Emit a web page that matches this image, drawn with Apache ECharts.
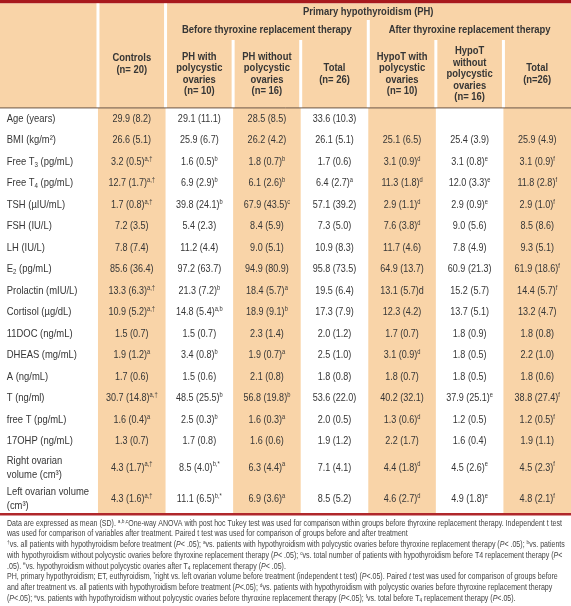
<!DOCTYPE html>
<html>
<head>
<meta charset="utf-8">
<script src="https://cdn.jsdelivr.net/npm/echarts@6.0.0/dist/echarts.min.js"></script>
<style>
html,body{margin:0;padding:0;background:#ffffff;}
#chart{width:571px;height:606px;}
</style>
</head>
<body>
<div id="chart"></div>
<script>
// ---------------- data ----------------
const rowLabels = [
  'Age (years)', 'BMI (kg/m²)', 'Free T_3 (pg/mL)', 'Free T_4 (pg/mL)', 'TSH (µIU/mL)',
  'FSH (IU/L)', 'LH (IU/L)', 'E_2 (pg/mL)', 'Prolactin (mIU/L)', 'Cortisol (µg/dL)',
  '11DOC (ng/mL)', 'DHEAS (mg/mL)', 'A (ng/mL)', 'T (ng/ml)', 'free T (pg/mL)',
  '17OHP (ng/mL)', 'Right ovarian\nvolume (cm³)', 'Left ovarian volume\n(cm³)'
];
const topHeader = 'Primary hypothyroidism (PH)';
const groupHeaders = ['Before thyroxine replacement therapy', 'After thyroxine replacement therapy'];
const columnHeaders = [
  'Controls\n(n= 20)',
  'PH with\npolycystic\novaries\n(n= 10)',
  'PH without\npolycystic\novaries\n(n= 16)',
  'Total\n(n= 26)',
  'HypoT with\npolycystic\novaries\n(n= 10)',
  'HypoT\nwithout\npolycystic\novaries\n(n= 16)',
  'Total\n(n=26)'
];
const controls = ['29.9 (8.2)', '26.6 (5.1)', '3.2 (0.5)^a,†', '12.7 (1.7)^a,†', '1.7 (0.8)^a,†', '7.2 (3.5)', '7.8 (7.4)', '85.6 (36.4)', '13.3 (6.3)^a,†', '10.9 (5.2)^a,†', '1.5 (0.7)', '1.9 (1.2)^a', '1.7 (0.6)', '30.7 (14.8)^a,†', '1.6 (0.4)^a', '1.3 (0.7)', '4.3 (1.7)^a,†', '4.3 (1.6)^a,†'];
const phWithPco = ['29.1 (11.1)', '25.9 (6.7)', '1.6 (0.5)^b', '6.9 (2.9)^b', '39.8 (24.1)^b', '5.4 (2.3)', '11.2 (4.4)', '97.2 (63.7)', '21.3 (7.2)^b', '14.8 (5.4)^a,b', '1.5 (0.7)', '3.4 (0.8)^b', '1.5 (0.6)', '48.5 (25.5)^b', '2.5 (0.3)^b', '1.7 (0.8)', '8.5 (4.0)^b,*', '11.1 (6.5)^b,*'];
const phWithoutPco = ['28.5 (8.5)', '26.2 (4.2)', '1.8 (0.7)^b', '6.1 (2.6)^b', '67.9 (43.5)^c', '8.4 (5.9)', '9.0 (5.1)', '94.9 (80.9)', '18.4 (5.7)^a', '18.9 (9.1)^b', '2.3 (1.4)', '1.9 (0.7)^a', '2.1 (0.8)', '56.8 (19.8)^b', '1.6 (0.3)^a', '1.6 (0.6)', '6.3 (4.4)^a', '6.9 (3.6)^a'];
const phTotal = ['33.6 (10.3)', '26.1 (5.1)', '1.7 (0.6)', '6.4 (2.7)^a', '57.1 (39.2)', '7.3 (5.0)', '10.9 (8.3)', '95.8 (73.5)', '19.5 (6.4)', '17.3 (7.9)', '2.0 (1.2)', '2.5 (1.0)', '1.8 (0.8)', '53.6 (22.0)', '2.0 (0.5)', '1.9 (1.2)', '7.1 (4.1)', '8.5 (5.2)'];
const hypoWithPco = ['', '25.1 (6.5)', '3.1 (0.9)^d', '11.3 (1.8)^d', '2.9 (1.1)^d', '7.6 (3.8)^d', '11.7 (4.6)', '64.9 (13.7)', '13.1 (5.7)d', '12.3 (4.2)', '1.7 (0.7)', '3.1 (0.9)^d', '1.8 (0.7)', '40.2 (32.1)', '1.3 (0.6)^d', '2.2 (1.7)', '4.4 (1.8)^d', '4.6 (2.7)^d'];
const hypoWithoutPco = ['', '25.4 (3.9)', '3.1 (0.8)^e', '12.0 (3.3)^e', '2.9 (0.9)^e', '9.0 (5.6)', '7.8 (4.9)', '60.9 (21.3)', '15.2 (5.7)', '13.7 (5.1)', '1.8 (0.9)', '1.8 (0.5)', '1.8 (0.5)', '37.9 (25.1)^e', '1.2 (0.5)', '1.6 (0.4)', '4.5 (2.6)^e', '4.9 (1.8)^e'];
const hypoTotal = ['', '25.9 (4.9)', '3.1 (0.9)^f', '11.8 (2.8)^f', '2.9 (1.0)^f', '8.5 (8.6)', '9.3 (5.1)', '61.9 (18.6)^f', '14.4 (5.7)^f', '13.2 (4.7)', '1.8 (0.8)', '2.2 (1.0)', '1.8 (0.6)', '38.8 (27.4)^f', '1.2 (0.5)^f', '1.9 (1.1)', '4.5 (2.3)^f', '4.8 (2.1)^f'];
const footnotes = [
  'Data are expressed as mean (SD). {s|a,b,c}One-way ANOVA with post hoc Tukey test was used for comparison within groups before thyroxine replacement therapy. Independent t test',
  'was used for comparison of variables after treatment. Paired t test was used for comparison of groups before and after treatment',
  '{s|†}vs. all patients with hypothyroidism before treatment ({i|P}< .05); {s|a}vs. patients with hypothyroidism with polycystic ovaries before thyroxine replacement therapy ({i|P}< .05); {s|b}vs. patients',
  'with hypothyroidism without polycystic ovaries before thyroxine replacement therapy ({i|P}< .05); {s|c}vs. total number of patients with hypothyroidism before T4 replacement therapy ({i|P}<',
  '.05). {s|e}vs. hypothyroidism without polycystic ovaries after T{b|4} replacement therapy ({i|P}< .05).',
  'PH, primary hypothyroidism; ET, euthyroidism, {s|*}right vs. left ovarian volume before treatment (independent t test) ({i|P}<.05). Paired {i|t} test was used for comparison of groups before',
  'and after treatment vs. all patients with hypothyroidism before treatment ({i|P}<.05); {s|d}vs. patients with hypothyroidism with polycystic ovaries before thyroxine replacement therapy',
  '({i|P}<.05); {s|e}vs. patients with hypothyroidism without polycystic ovaries before thyroxine replacement therapy ({i|P}<.05); {s|f}vs. total before T{b|4} replacement therapy ({i|P}<.05).'
];
const columns = [controls, phWithPco, phWithoutPco, phTotal, hypoWithPco, hypoWithoutPco, hypoTotal];

// ---------------- layout & style ----------------
const FONT = '"Liberation Sans", Arial, sans-serif';
const NARROW = 0.82;
const PEACH = '#F9D4A8';
const RED = '#A8191D';
const TXT = '#363636';
const PX_PER_UNIT = 21.5;
const LABEL_COL = 1.45;
const xEdges = [0, LABEL_COL];
columns.forEach((c, i) => xEdges.push(LABEL_COL + i + 1));
const xMax = xEdges[xEdges.length - 1];
const yBarEnd = 0.16, yTitleEnd = 0.93, yGroupEnd = 1.86, yHeadEnd = 5.02;
const rowEdges = [yHeadEnd];
rowLabels.forEach(l => rowEdges.push(rowEdges[rowEdges.length - 1] + (l.indexOf('\n') >= 0 ? 1.45 : 1)));
const yMax = rowEdges[rowEdges.length - 1];
const peachCols = [0, 2, 4, 6];

function fmtValue(s) {
  if (!s) return '';
  const i = s.indexOf('^');
  if (i < 0) return '{v|' + s + '}';
  return '{v|' + s.slice(0, i) + '}{s|' + s.slice(i + 1) + '}';
}
function fmtLabel(s) {
  return s.split('\n').map(line => '{l|' + line.replace(/_(\w)/g, '}{b|$1}{l|') + '}').join('\n');
}

const BG_COLORS = [RED, PEACH];
const bgItems = [[0, 0, xMax, yBarEnd, 0], [0, yBarEnd, xMax, yHeadEnd, 1]];
peachCols.forEach(c => bgItems.push([xEdges[c + 1], yHeadEnd, xEdges[c + 2], yMax, 1]));

const LINE_STYLES = [
  {stroke: '#ffffff', lineWidth: 3},
  {stroke: '#6b5646', lineWidth: 1},
  {stroke: '#B0272B', lineWidth: 2.5}
];
const ruleItems = [
  [xEdges[1], yBarEnd, xEdges[1], yHeadEnd, 0],
  [xEdges[2], yBarEnd, xEdges[2], yHeadEnd, 0],
  [xEdges[5], yTitleEnd, xEdges[5], yHeadEnd, 0],
  [xEdges[3], yGroupEnd, xEdges[3], yHeadEnd, 0],
  [xEdges[4], yGroupEnd, xEdges[4], yHeadEnd, 0],
  [xEdges[6], yGroupEnd, xEdges[6], yHeadEnd, 0],
  [xEdges[7], yGroupEnd, xEdges[7], yHeadEnd, 0],
  [0, yHeadEnd, xMax, yHeadEnd, 1],
  [0, yMax, xMax, yMax, 2]
];

const headerTexts = [topHeader, groupHeaders[0], groupHeaders[1]].concat(columnHeaders);
const headerItems = [
  [(xEdges[2] + xEdges[8]) / 2, (yBarEnd + yTitleEnd) / 2, 0],
  [(xEdges[2] + xEdges[5]) / 2, (yTitleEnd + yGroupEnd) / 2, 1],
  [(xEdges[5] + xEdges[8]) / 2, (yTitleEnd + yGroupEnd) / 2, 2],
  [(xEdges[1] + xEdges[2]) / 2, (yTitleEnd + yHeadEnd) / 2, 3]
];
for (let c = 1; c < columnHeaders.length; c++) {
  headerItems.push([(xEdges[c + 1] + xEdges[c + 2]) / 2, (yGroupEnd + yHeadEnd) / 2, 3 + c]);
}

const labelItems = rowLabels.map((l, r) => [0.1, (rowEdges[r] + rowEdges[r + 1]) / 2, r]);
const cellItems = [];
columns.forEach((col, c) => col.forEach((v, r) => {
  cellItems.push([(xEdges[c + 1] + xEdges[c + 2]) / 2, (rowEdges[r] + rowEdges[r + 1]) / 2, c, r]);
}));

const bodyRich = {
  v: {fontFamily: FONT, fontSize: 11, fill: TXT, lineHeight: 13},
  s: {fontFamily: FONT, fontSize: 7, fill: TXT, lineHeight: 7, verticalAlign: 'top'},
  l: {fontFamily: FONT, fontSize: 11.5, fill: TXT, lineHeight: 14},
  b: {fontFamily: FONT, fontSize: 7.5, fill: TXT, lineHeight: 9, verticalAlign: 'bottom'}
};
const FN = '#444444';
const FN_SIZE = 8.6;
const footRich = {
  s: {fontFamily: FONT, fontSize: 5.8, fill: FN, lineHeight: 6, verticalAlign: 'top'},
  b: {fontFamily: FONT, fontSize: 5.8, fill: FN, lineHeight: 6, verticalAlign: 'bottom'},
  i: {fontFamily: FONT, fontSize: FN_SIZE, fill: FN, fontStyle: 'italic', lineHeight: 10.7}
};

const chart = echarts.init(document.getElementById('chart'), null, {renderer: 'canvas'});
chart.setOption({
  animation: false,
  backgroundColor: '#ffffff',
  graphic: [{
    type: 'text', x: 7, y: 518, scaleX: NARROW, silent: true,
    style: {text: footnotes.join('\n'), font: FN_SIZE + 'px ' + FONT, fill: FN, lineHeight: 10.7,
      verticalAlign: 'top', align: 'left', rich: footRich}
  }],
  grid: {left: 0, right: 0, top: 0, height: yMax * PX_PER_UNIT},
  xAxis: {type: 'value', min: 0, max: xMax, show: false},
  yAxis: {type: 'value', min: 0, max: yMax, inverse: true, show: false},
  series: [
    {
      type: 'custom', silent: true, data: bgItems, encode: {x: [0, 2], y: [1, 3]},
      renderItem: (params, api) => {
        const p0 = api.coord([api.value(0), api.value(1)]);
        const p1 = api.coord([api.value(2), api.value(3)]);
        return {type: 'rect', shape: {x: p0[0], y: p0[1], width: p1[0] - p0[0], height: p1[1] - p0[1]},
          style: {fill: BG_COLORS[api.value(4)]}};
      }
    },
    {
      type: 'custom', silent: true, data: ruleItems, encode: {x: [0, 2], y: [1, 3]},
      renderItem: (params, api) => {
        const p0 = api.coord([api.value(0), api.value(1)]);
        const p1 = api.coord([api.value(2), api.value(3)]);
        return {type: 'line', shape: {x1: p0[0], y1: p0[1], x2: p1[0], y2: p1[1]},
          style: LINE_STYLES[api.value(4)]};
      }
    },
    {
      type: 'custom', silent: true, data: headerItems, encode: {x: 0, y: 1},
      renderItem: (params, api) => {
        const p = api.coord([api.value(0), api.value(1)]);
        return {type: 'text', x: p[0], y: p[1], scaleX: NARROW,
          style: {text: headerTexts[api.value(2)], align: 'center', verticalAlign: 'middle',
            font: 'bold 11.5px ' + FONT, fill: TXT, lineHeight: 11.5}};
      }
    },
    {
      type: 'custom', silent: true, data: labelItems, encode: {x: 0, y: 1},
      renderItem: (params, api) => {
        const p = api.coord([api.value(0), api.value(1)]);
        return {type: 'text', x: p[0], y: p[1], scaleX: NARROW,
          style: {text: fmtLabel(rowLabels[api.value(2)]), align: 'left', verticalAlign: 'middle',
            rich: bodyRich, fill: TXT}};
      }
    },
    {
      type: 'custom', silent: true, data: cellItems, encode: {x: 0, y: 1},
      renderItem: (params, api) => {
        const p = api.coord([api.value(0), api.value(1)]);
        const txt = fmtValue(columns[api.value(2)][api.value(3)]);
        return {type: 'text', x: p[0], y: p[1], scaleX: NARROW,
          style: {text: txt, align: 'center', verticalAlign: 'middle', rich: bodyRich, fill: TXT}};
      }
    }
  ]
});
</script>
</body>
</html>
